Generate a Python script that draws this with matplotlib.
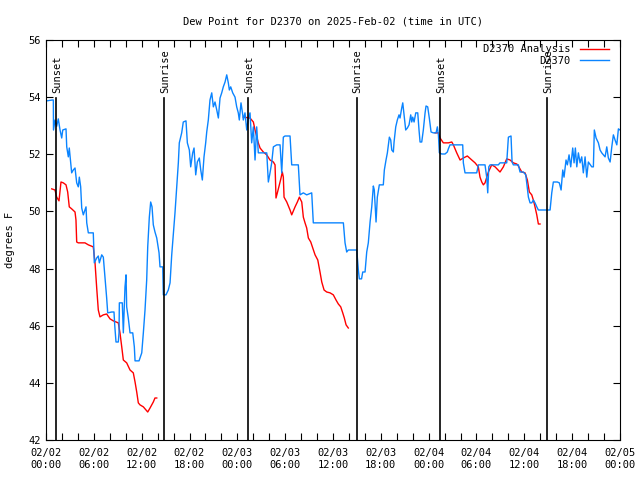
import numpy as np
import matplotlib
matplotlib.use("Agg")
import matplotlib.pyplot as plt
from matplotlib.ticker import MultipleLocator

# hours since 2025-02-02 00:00 UTC, dew point in degrees F
obs_hours = [0.09, 0.79, 0.92, 0.94, 1.13, 1.34, 1.54, 1.76, 1.97, 2.1, 2.51, 2.6, 2.8, 2.92,
             3.1, 3.22, 3.42, 3.64, 3.85, 4.05, 4.18, 4.35, 4.48, 4.68, 5.02, 5.11, 5.31, 5.93,
             6.06, 6.36, 6.56, 6.69, 6.99, 7.19, 7.4, 7.61, 7.74, 8.24, 8.53, 8.62, 8.78, 9.07,
             9.16, 9.2, 9.57, 9.7, 9.91, 10.04, 10.12, 10.32, 10.54, 10.88, 11.08, 11.17, 11.67,
             12.01, 12.21, 12.42, 12.63, 12.76, 12.96, 13.13, 13.3, 13.46, 13.67, 13.89, 14.18,
             14.3, 14.64, 14.72, 15.05, 15.34, 15.56, 15.77, 15.97, 16.18, 16.4, 16.6, 16.72,
             17.02, 17.22, 17.56, 17.73, 17.98, 18.15, 18.4, 18.57, 18.78, 18.98, 19.23, 19.41,
             19.61, 19.82, 20.03, 20.16, 20.36, 20.57, 20.79, 20.99, 21.2, 21.42, 21.62, 21.83,
             22.04, 22.24, 22.46, 22.67, 22.87, 23.0, 23.17, 23.42, 23.71, 23.92, 24.12, 24.25,
             24.46, 24.68, 24.75, 24.96, 25.18, 25.38, 25.59, 25.8, 26.01, 26.22, 26.43, 26.63,
             26.85, 27.69, 27.89, 28.1, 28.31, 28.52, 28.94, 29.36, 29.57, 29.77, 29.98, 30.61,
             30.82, 31.65, 31.86, 32.28, 32.7, 33.33, 33.53, 37.3, 37.51, 37.72, 37.92, 38.98,
             39.18, 39.3, 39.58, 39.73, 40.02, 40.23, 40.43, 40.65, 40.86, 41.06, 41.18, 41.4,
             41.56, 41.81, 42.31, 42.44, 42.65, 42.82, 43.07, 43.24, 43.37, 43.57, 43.66, 43.87,
             44.07, 44.28, 44.41, 44.62, 44.75, 44.91, 45.12, 45.33, 45.54, 45.75, 45.88, 46.0,
             46.17, 46.38, 46.63, 46.79, 46.92, 47.13, 47.33, 47.55, 47.67, 47.88, 48.08, 48.3,
             48.59, 48.93, 49.09, 49.22, 49.34, 49.64, 50.05, 50.34, 50.47, 50.68, 52.27, 52.35,
             52.56, 54.03, 54.23, 55.07, 55.29, 55.41, 55.54, 55.7, 56.74, 56.95, 57.79, 58.0,
             58.33, 58.46, 58.62, 59.25, 59.46, 59.88, 60.18, 60.51, 60.72, 60.93, 61.13, 61.34,
             61.56, 61.76, 63.23, 63.44, 63.64, 64.14, 64.39, 64.61, 64.82, 64.98, 65.23, 65.4,
             65.61, 65.82, 66.07, 66.24, 66.4, 66.58, 66.78, 66.99, 67.2, 67.4, 67.62, 67.83,
             68.03, 68.46, 68.66, 68.78, 69.0, 69.29, 69.5, 69.71, 69.92, 70.13, 70.34, 70.54,
             70.76, 70.97, 71.17, 71.38, 71.6, 71.8, 72.0]
obs_dewpt = [53.87, 53.9, 53.9, 52.85, 53.2, 52.98, 53.24, 52.85, 52.57, 52.85, 52.89, 52.26,
             51.91, 52.22, 51.7, 51.35, 51.45, 51.52, 51.0, 50.86, 51.2, 50.86, 50.12, 49.88,
             50.16, 49.6, 49.25, 49.25, 48.2, 48.37, 48.44, 48.2, 48.48, 48.4, 47.7, 46.97,
             46.45, 46.48, 46.48, 46.02, 45.43, 45.43, 45.75, 46.8, 46.8, 45.75, 47.36, 47.78,
             46.66, 46.27, 45.75, 45.75, 45.26, 44.77, 44.77, 45.05, 45.75, 46.55, 47.6, 48.76,
             49.8, 50.33, 50.16, 49.53, 49.28, 49.07, 48.55, 48.06, 48.06, 47.08, 47.08, 47.25,
             47.5, 48.48, 49.18, 49.95, 50.86, 51.7, 52.4, 52.75, 53.13, 53.17, 52.4, 52.15,
             51.56, 52.05, 52.22, 51.28, 51.73, 51.87, 51.45, 51.1, 51.91, 52.4, 52.78, 53.2,
             53.9, 54.15, 53.66, 53.83, 53.55, 53.27, 53.97, 54.15, 54.36, 54.53, 54.78, 54.5,
             54.25, 54.36, 54.15, 54.0, 53.66, 53.45, 53.2, 53.8, 53.38, 53.2, 53.45, 52.85,
             53.27, 53.45, 52.4, 52.96, 51.8, 52.96, 52.05, 52.05, 52.05, 51.03, 51.35, 51.7,
             52.26, 52.33, 52.33, 51.35, 52.6, 52.64, 52.64, 51.63, 51.63, 50.58, 50.65, 50.58,
             50.65, 49.6, 49.6, 48.9, 48.58, 48.65, 48.65, 47.95, 47.64, 47.64, 47.88, 47.88,
             48.58, 48.9, 49.63, 50.16, 50.89, 50.75, 49.63, 50.5, 50.93, 50.93, 51.45, 51.8,
             52.05, 52.6, 52.5, 52.15, 52.08, 52.43, 52.96, 53.2, 53.38, 53.27, 53.62, 53.8,
             53.38, 52.85, 52.92, 53.03, 53.38, 53.13, 53.3, 53.13, 53.45, 53.45, 52.85, 52.43,
             52.43, 52.85, 53.45, 53.69, 53.66, 53.27, 52.78, 52.75, 52.75, 52.96, 52.68, 52.05,
             52.01, 52.01, 52.08, 52.19, 52.33, 52.33, 51.7, 51.35, 51.35, 51.63, 51.63, 51.17,
             50.65, 51.56, 51.63, 51.63, 51.7, 51.7, 52.6, 52.64, 51.73, 51.63, 51.63, 51.38,
             51.38, 51.28, 50.5, 50.3, 50.3, 50.4, 50.3, 50.16, 50.05, 50.05, 50.65, 51.03,
             51.03, 51.0, 50.75, 51.45, 51.2, 51.8, 51.63, 51.98, 51.56, 52.22, 51.7, 52.22,
             51.56, 52.05, 51.7, 51.91, 51.35, 51.91, 51.2, 51.73, 51.56, 51.56, 52.85, 52.57,
             52.4, 52.15, 52.05, 51.98, 51.91, 52.26, 51.87, 51.73, 52.26, 52.68, 52.5, 52.33,
             52.89, 52.85]

# analysis runs (three separate pieces)
ana1_hours = [0.72, 1.13, 1.34, 1.63, 1.88, 2.17, 2.51, 2.72, 2.92, 3.22, 3.64, 3.76, 3.85,
              4.05, 4.89, 5.31, 5.93, 6.15, 6.36, 6.56, 6.77, 7.19, 7.61, 8.03, 8.44, 9.07,
              9.28, 9.5, 9.7, 10.12, 10.54, 10.95, 11.17, 11.38, 11.58, 11.79, 12.21, 12.76,
              13.05, 13.46, 13.67, 13.89]
ana1_dewpt = [50.79, 50.75, 50.5, 50.37, 51.03, 51.0, 50.93, 50.68, 50.16, 50.09, 49.98, 49.7,
              48.93, 48.9, 48.9, 48.83, 48.76, 48.2, 47.32, 46.55, 46.31, 46.38, 46.41, 46.24,
              46.17, 46.1, 45.75, 45.26, 44.8, 44.7, 44.45, 44.35, 44.03, 43.68, 43.3, 43.23,
              43.16, 42.98, 43.12, 43.33, 43.47, 43.47]
ana2_hours = [24.75, 25.59, 26.01, 26.22, 26.63, 26.85, 27.26, 27.69, 28.1, 28.52, 28.73,
              28.85, 29.02, 29.27, 29.48, 29.64, 29.77, 29.86, 30.2, 30.61, 30.82, 31.24, 31.53,
              31.78, 32.08, 32.28, 32.49, 32.7, 32.91, 33.21, 33.46, 33.75, 34.09, 34.37, 34.59,
              34.88, 35.21, 35.63, 36.04, 36.38, 36.67, 36.97, 37.22, 37.42, 37.64, 37.92]
ana2_dewpt = [53.3, 53.27, 53.13, 52.85, 52.4, 52.22, 52.08, 51.98, 51.8, 51.73, 51.63, 50.47,
              50.65, 50.93, 51.17, 51.38, 51.2, 50.5, 50.33, 50.05, 49.88, 50.16, 50.33, 50.5,
              50.33, 49.8, 49.6, 49.42, 49.07, 48.93, 48.72, 48.48, 48.3, 47.88, 47.53, 47.25,
              47.18, 47.15, 47.08, 46.9, 46.76, 46.66, 46.45, 46.27, 46.03, 45.92]
ana3_hours = [48.8, 49.22, 49.43, 49.84, 50.47, 50.9, 51.1, 51.52, 51.94, 52.35, 52.85, 53.41,
              53.82, 54.23, 54.44, 54.66, 54.86, 55.07, 55.49, 55.91, 56.33, 56.95, 57.37,
              57.79, 58.21, 58.62, 59.05, 59.25, 59.68, 60.09, 60.38, 60.63, 60.93, 61.13,
              61.34, 61.56, 61.76, 61.97]
ana3_dewpt = [52.75, 52.75, 52.57, 52.4, 52.4, 52.43, 52.33, 52.05, 51.8, 51.87, 51.94, 51.8,
              51.7, 51.56, 51.2, 51.03, 50.93, 51.0, 51.38, 51.63, 51.56, 51.38, 51.56, 51.84,
              51.8, 51.7, 51.66, 51.59, 51.38, 51.35, 51.1, 50.68, 50.58, 50.4, 50.16, 49.88,
              49.56, 49.56]

sun_hours = [1.29, 14.8, 25.36, 38.97, 49.48, 62.89]
sun_labels = ["Sunset", "Sunrise", "Sunset", "Sunrise", "Sunset", "Sunrise"]

tick_hours = [0, 6, 12, 18, 24, 30, 36, 42, 48, 54, 60, 66, 72]
tick_labels = ["02/02\n00:00", "02/02\n06:00", "02/02\n12:00", "02/02\n18:00",
               "02/03\n00:00", "02/03\n06:00", "02/03\n12:00", "02/03\n18:00",
               "02/04\n00:00", "02/04\n06:00", "02/04\n12:00", "02/04\n18:00",
               "02/05\n00:00"]

plt.rcParams['font.family'] = ['DejaVu Sans Mono']
FS = 7.5
RED = '#ff0000'
BLUE = '#0a84ff'

fig = plt.figure(figsize=(6.4, 4.8), dpi=100)
ax = fig.add_axes([46/640, 40/480, 574/640, 400/480])

ax.plot(ana1_hours, ana1_dewpt, color=RED, lw=1, label="D2370 Analysis")
ax.plot(ana2_hours, ana2_dewpt, color=RED, lw=1)
ax.plot(ana3_hours, ana3_dewpt, color=RED, lw=1)
ax.plot(obs_hours, obs_dewpt, color=BLUE, lw=1, label="D2370")

# sunrise / sunset markers
for h, lab in zip(sun_hours, sun_labels):
    ax.axvline(h, ymin=0, ymax=(53.97 - 42) / 14, color='black', lw=1.2)
    ax.text(h + 0.1, 54.15, lab, rotation=90, ha='center', va='bottom', fontsize=FS)

ax.set_xlim(0, 72)
ax.set_ylim(42, 56)
ax.set_xticks(tick_hours, labels=tick_labels)
ax.xaxis.set_minor_locator(MultipleLocator(2))
ax.yaxis.set_major_locator(MultipleLocator(2))
ax.tick_params(which='both', direction='in', top=True, right=True, labelsize=FS, width=0.8)
ax.tick_params(which='major', length=5)
ax.tick_params(which='minor', length=5)
ax.tick_params(axis='x', pad=6)
for s in ax.spines.values():
    s.set_linewidth(0.8)

ax.set_ylabel("degrees F", fontsize=FS, labelpad=10)
ax.set_title("Dew Point for D2370 on 2025-Feb-02 (time in UTC)", fontsize=FS, pad=11)

ax.legend(loc='upper right', bbox_to_anchor=(0.988, 1.0), frameon=False,
          markerfirst=False, fontsize=FS, handlelength=2.8, handletextpad=0.9,
          labelspacing=0.15, borderaxespad=0.1, borderpad=0.3)

fig.savefig("out.png", dpi=100)
